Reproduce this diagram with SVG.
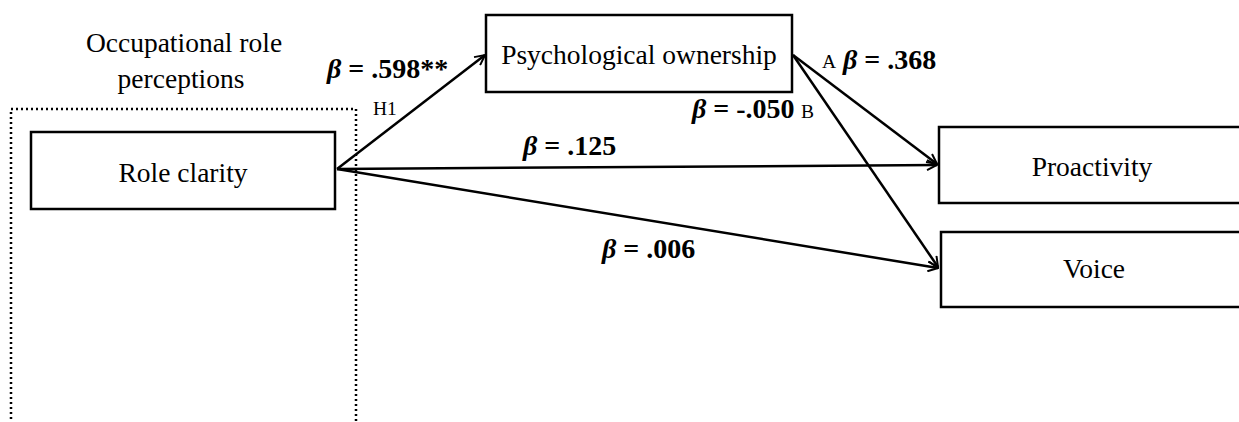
<svg xmlns="http://www.w3.org/2000/svg" width="1239" height="422" viewBox="0 0 1239 422">
<defs>
<style>
.box{fill:#fff;stroke:#000;stroke-width:2.5}
.t{font-family:"Liberation Serif","Times New Roman",serif;font-size:27.5px;fill:#000}
.b{font-family:"Liberation Serif","Times New Roman",serif;font-size:28px;font-weight:bold;fill:#000}
.s{font-family:"Liberation Serif","Times New Roman",serif;font-size:19.5px;fill:#000}
.c{fill:none;stroke:#000;stroke-width:2.5}
</style>
<marker id="ah" viewBox="0 0 12 12" refX="11" refY="6" markerWidth="12" markerHeight="12" markerUnits="userSpaceOnUse" orient="auto">
<path d="M1,1 L11,6 L1,11" fill="none" stroke="#000" stroke-width="2"/>
</marker>
</defs>
<rect width="1239" height="422" fill="#fff"/>
<g id="group-occupational">
<rect x="11" y="109" width="345" height="330" fill="none" stroke="#000" stroke-width="2.5" stroke-dasharray="2,3"/>
<text class="t" x="184" y="52" text-anchor="middle">Occupational role</text>
<text class="t" x="181" y="88" text-anchor="middle">perceptions</text>
</g>
<g id="node-role-clarity">
<rect class="box" x="31" y="132" width="304" height="77"/>
<text class="t" x="183" y="182" text-anchor="middle">Role clarity</text>
</g>
<g id="node-psych-ownership">
<rect class="box" x="486" y="15" width="306" height="77"/>
<text class="t" x="639" y="64" text-anchor="middle">Psychological ownership</text>
</g>
<g id="node-proactivity">
<rect class="box" x="939" y="127" width="310" height="76"/>
<text class="t" x="1092" y="176" text-anchor="middle">Proactivity</text>
</g>
<g id="node-voice">
<rect class="box" x="941" y="232" width="310" height="75"/>
<text class="t" x="1094" y="278" text-anchor="middle">Voice</text>
</g>
<g id="connectors">
<line class="c" x1="337" y1="169" x2="485" y2="55" marker-end="url(#ah)"/>
<line class="c" x1="337" y1="169" x2="937" y2="165" marker-end="url(#ah)"/>
<line class="c" x1="337" y1="169" x2="938" y2="268" marker-end="url(#ah)"/>
<line class="c" x1="793" y1="55" x2="937" y2="164" marker-end="url(#ah)"/>
<line class="c" x1="793" y1="55" x2="938" y2="267" marker-end="url(#ah)"/>
</g>
<g id="labels">
<text class="b" x="327" y="78"><tspan font-style="italic">β</tspan> = .598**</text>
<text class="s" x="373" y="115">H1</text>
<text class="s" x="822" y="68">A</text>
<text class="b" x="843" y="69"><tspan font-style="italic">β</tspan> = .368</text>
<text class="b" x="692" y="118"><tspan font-style="italic">β</tspan> = -.050</text>
<text class="s" x="801" y="118">B</text>
<text class="b" x="523" y="155"><tspan font-style="italic">β</tspan> = .125</text>
<text class="b" x="602" y="258"><tspan font-style="italic">β</tspan> = .006</text>
</g>
</svg>
